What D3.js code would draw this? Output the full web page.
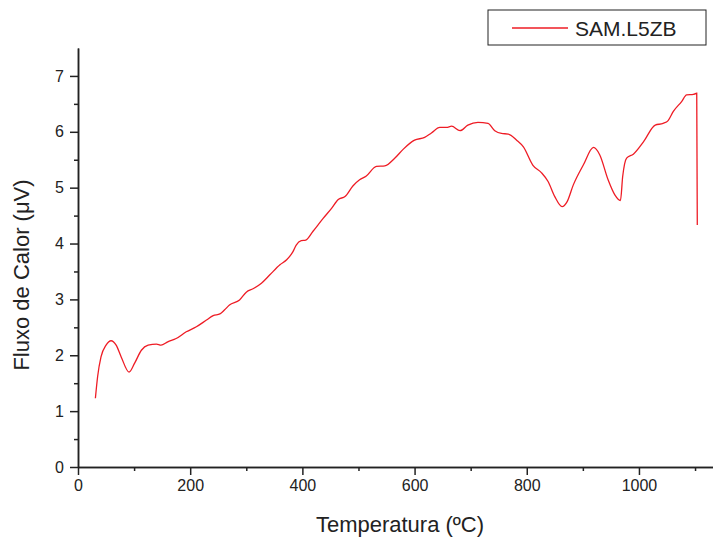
<!DOCTYPE html>
<html>
<head>
<meta charset="utf-8">
<script src="https://cdnjs.cloudflare.com/ajax/libs/d3/7.8.5/d3.min.js"></script>
<style>
  body { margin: 0; background: #fff; }
  text { font-family: "Liberation Sans", Arial, sans-serif; fill: #222; }
</style>
</head>
<body>
<div id="chart"></div>
<script>
// curve: temperature (ºC) and heat flux (µV)
var temperatura = [31, 35, 41, 50, 59, 68, 77, 91, 101, 113, 125, 140, 148, 160, 175, 193,
  211, 229, 241, 253, 261, 270, 288, 300, 312, 327, 342, 360, 372, 383, 389, 398, 406,
  419, 437, 452, 464, 476, 490, 502, 514, 532, 547, 565, 580, 600, 618, 630, 645, 657,
  666, 681, 695, 713, 731, 743, 755, 767, 782, 794, 811, 826, 838, 850, 863, 872, 883,
  901, 919, 930, 945, 957, 967, 971, 978, 990, 1008, 1029, 1043, 1052, 1061, 1076,
  1085, 1097, 1103, 1104];
var fluxo = [1.23, 1.62, 1.97, 2.18, 2.26, 2.18, 1.97, 1.70, 1.86, 2.09, 2.18, 2.20, 2.18,
  2.24, 2.30, 2.42, 2.51, 2.63, 2.71, 2.74, 2.81, 2.90, 2.99, 3.13, 3.19, 3.29, 3.44,
  3.62, 3.71, 3.85, 3.97, 4.05, 4.06, 4.22, 4.45, 4.63, 4.79, 4.84, 5.03, 5.14, 5.21,
  5.38, 5.39, 5.53, 5.69, 5.85, 5.90, 5.98, 6.08, 6.08, 6.10, 6.02, 6.12, 6.17, 6.15,
  6.02, 5.97, 5.96, 5.85, 5.73, 5.40, 5.27, 5.11, 4.84, 4.66, 4.75, 5.05, 5.41, 5.72,
  5.59, 5.14, 4.87, 4.77, 5.20, 5.53, 5.60, 5.82, 6.12, 6.15, 6.20, 6.36, 6.54, 6.66,
  6.67, 6.69, 4.33];
var serieNome = 'SAM.L5ZB';
var xMajor = [0, 200, 400, 600, 800, 1000];
var xMinor = [100, 300, 500, 700, 900, 1100];
var yMajor = [0, 1, 2, 3, 4, 5, 6, 7];
var yMinor = [0.5, 1.5, 2.5, 3.5, 4.5, 5.5, 6.5];

var svgWidth = 713, svgHeight = 538;
var margin = { top: 48, right: 0, bottom: 71, left: 78 };

var data = temperatura.map(function (t, i) { return { x: t, y: fluxo[i] }; });

var svg = d3.select('#chart')
  .append('svg')
  .attr('width', svgWidth)
  .attr('height', svgHeight);

var x = d3.scaleLinear().domain([0, 1132]).range([margin.left, svgWidth - margin.right]);
var y = d3.scaleLinear().domain([0, 7.5]).range([svgHeight - margin.bottom, margin.top]);

// axes
svg.append('g')
  .attr('transform', 'translate(0,' + y(0) + ')')
  .call(d3.axisBottom(x).tickValues(xMajor).tickFormat(d3.format('d')).tickSize(8).tickPadding(5).tickSizeOuter(0));
svg.append('g')
  .attr('transform', 'translate(0,' + y(0) + ')')
  .call(d3.axisBottom(x).tickValues(xMinor).tickSize(4).tickFormat('').tickSizeOuter(0));

svg.append('g')
  .attr('transform', 'translate(' + x(0) + ',0)')
  .call(d3.axisLeft(y).tickValues(yMajor).tickSize(8).tickPadding(6).tickSizeOuter(0));
svg.append('g')
  .attr('transform', 'translate(' + x(0) + ',0)')
  .call(d3.axisLeft(y).tickValues(yMinor).tickSize(4).tickFormat('').tickSizeOuter(0));

svg.selectAll('.domain, .tick line')
  .attr('stroke', '#222')
  .attr('stroke-width', 1.5);
svg.selectAll('.tick text')
  .attr('font-size', 16)
  .attr('font-family', '"Liberation Sans", Arial, sans-serif')
  .attr('fill', '#222');

// axis titles
svg.append('text')
  .attr('x', 400)
  .attr('y', 532)
  .attr('text-anchor', 'middle')
  .attr('font-size', 22)
  .text('Temperatura (ºC)');

svg.append('text')
  .attr('transform', 'translate(29,275) rotate(-90)')
  .attr('text-anchor', 'middle')
  .attr('font-size', 22)
  .text('Fluxo de Calor (μV)');

// curve
var line = d3.line()
  .x(function (d) { return x(d.x); })
  .y(function (d) { return y(d.y); })
  .curve(d3.curveMonotoneX);

svg.append('path')
  .datum(data)
  .attr('fill', 'none')
  .attr('stroke', '#ee1c25')
  .attr('stroke-width', 1.3)
  .attr('d', line);

// legend
var legend = svg.append('g').attr('transform', 'translate(488,10)');
legend.append('rect')
  .attr('width', 218)
  .attr('height', 35)
  .attr('fill', '#fff')
  .attr('stroke', '#222')
  .attr('stroke-width', 1);
legend.append('line')
  .attr('x1', 24).attr('x2', 80)
  .attr('y1', 18).attr('y2', 18)
  .attr('stroke', '#ee1c25')
  .attr('stroke-width', 1.3);
legend.append('text')
  .attr('x', 87)
  .attr('y', 26)
  .attr('font-size', 21)
  .text(serieNome);
</script>
</body>
</html>
